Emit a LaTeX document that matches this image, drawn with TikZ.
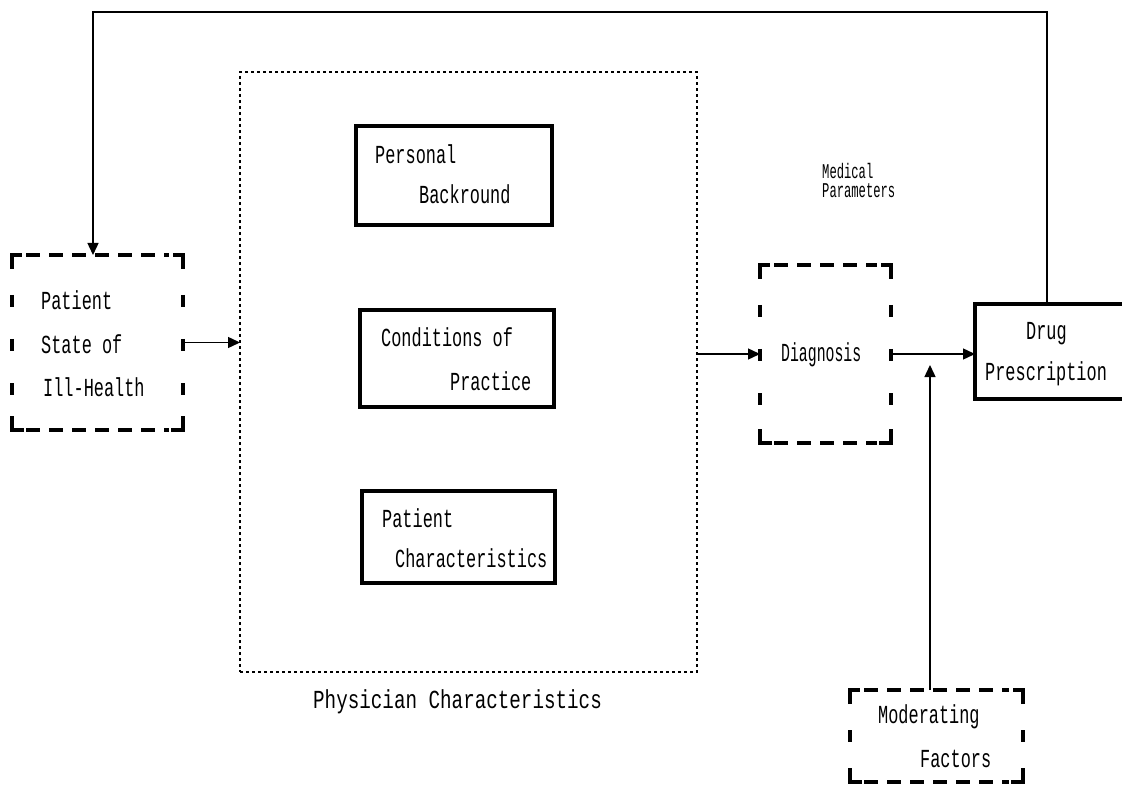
\documentclass[tikz,border=0pt]{standalone}
\usepackage{fontspec}
\setmonofont{Liberation Mono}
\usetikzlibrary{arrows.meta,calc}

% horizontally condensed typewriter text
\newcommand\tl[2][0.65]{\scalebox{#1}[1]{#2}}

% thick broken frame drawn round a named node
\newcommand\dashframe[1]{%
  \draw[hdash] ([xshift=14pt]#1.north west) -- ([xshift=-14pt]#1.north east);
  \draw[hdash] ([xshift=14pt]#1.south west) -- ([xshift=-14pt]#1.south east);
  \draw[vdash] ([yshift=-40pt]#1.north west) -- ([yshift=14pt]#1.south west);
  \draw[vdash] ([yshift=-40pt]#1.north east) -- ([yshift=14pt]#1.south east);
  \draw[corner] ([yshift=-14pt]#1.north west) -- (#1.north west) -- ([xshift=10pt]#1.north west);
  \draw[corner] ([yshift=-14pt]#1.north east) -- (#1.north east) -- ([xshift=-10pt]#1.north east);
  \draw[corner] ([yshift=14pt]#1.south west) -- (#1.south west) -- ([xshift=12pt]#1.south west);
  \draw[corner] ([yshift=14pt]#1.south east) -- (#1.south east) -- ([xshift=-12pt]#1.south east);
}

\tikzset{
  box/.style={rectangle, inner sep=0pt, outer sep=0pt},
  solidbox/.style={box, draw, line width=3.5pt},
  hdash/.style={line width=3.8pt, dash pattern=on 14pt off 9pt},
  vdash/.style={line width=3.5pt, dash pattern=on 12pt off 32pt},
  corner/.style={line width=3.8pt},
  dotbox/.style={box, draw, line width=1.1pt, dash pattern=on 3pt off 3pt},
  txt/.style={anchor=base west, inner sep=0pt, font=\ttfamily\fontsize{26}{30}\selectfont},
  smalltxt/.style={anchor=base west, inner sep=0pt, font=\ttfamily\fontsize{21}{24}\selectfont},
  link/.style={line width=1.4pt},
  arr/.style={link, -{Triangle[length=12pt,width=11pt]}},
}

\begin{document}
\begin{tikzpicture}[x=1pt,y=-1pt]
\clip (0,0) rectangle (1122,786);
\fill[white] (0,0) rectangle (1122,786);

% frames
\node[box, minimum width=171pt, minimum height=175pt] (patient) at (97.5,342.5) {};
\dashframe{patient}
\node[dotbox, minimum width=457pt, minimum height=600pt] (phys) at (468.5,372) {};
\node[solidbox, minimum width=196pt, minimum height=99pt] (pers) at (454,175.5) {};
\node[solidbox, minimum width=194pt, minimum height=97pt] (cond) at (457,358.5) {};
\node[solidbox, minimum width=193pt, minimum height=92pt] (pchar) at (458.5,537) {};
\node[box, minimum width=131pt, minimum height=178pt] (diag) at (825.5,354) {};
\dashframe{diag}
\node[solidbox, minimum width=160pt, minimum height=95pt] (drug) at (1055,351.5) {};
\node[box, minimum width=173pt, minimum height=92pt] (mod) at (936.5,736) {};
\dashframe{mod}

% texts
\node[txt] (t1) at (41,310) {\tl{Patient}};
\node[txt] (t2) at (41,353) {\tl{State of}};
\node[txt] (t3) at (43,396) {\tl{Ill-Health}};
\node[txt] (t4) at (375,164) {\tl{Personal}};
\node[txt] (t5) at (419,204) {\tl{Backround}};
\node[txt] (t6) at (381,346) {\tl{Conditions of}};
\node[txt] (t7) at (450,390) {\tl{Practice}};
\node[txt] (t8) at (382,527) {\tl{Patient}};
\node[txt] (t9) at (395,567) {\tl{Characteristics}};
\node[txt] (t10) at (781,362) {\tl[0.57]{Diagnosis}};
\node[txt] (t11) at (1026,340) {\tl{Drug}};
\node[txt] (t12) at (985,380) {\tl{Prescription}};
\node[txt] (t13) at (878,723) {\tl{Moderating}};
\node[txt] (t14) at (920,767) {\tl{Factors}};
\node[smalltxt] (t15) at (822,179) {\tl[0.58]{Medical}};
\node[smalltxt] (t16) at (822,198) {\tl[0.58]{Parameters}};
\node[txt] (t17) at (313,708) {\tl[0.74]{Physician Characteristics}};

% connectors
\coordinate (fb) at (93,12);
\coordinate (mj) at (930,365);
\draw[arr] ([xshift=-8pt]drug.north) |- (fb) -- (fb |- patient.north);
\draw[arr] (patient.east) -- (phys.west |- patient.east);
\draw[arr] (phys.east |- diag.west) -- (diag.west);
\draw[arr] (diag.east) -- (drug.west |- diag.east);
\draw[arr] ([xshift=-6.5pt]mod.north) -- (mj);
\end{tikzpicture}
\end{document}
